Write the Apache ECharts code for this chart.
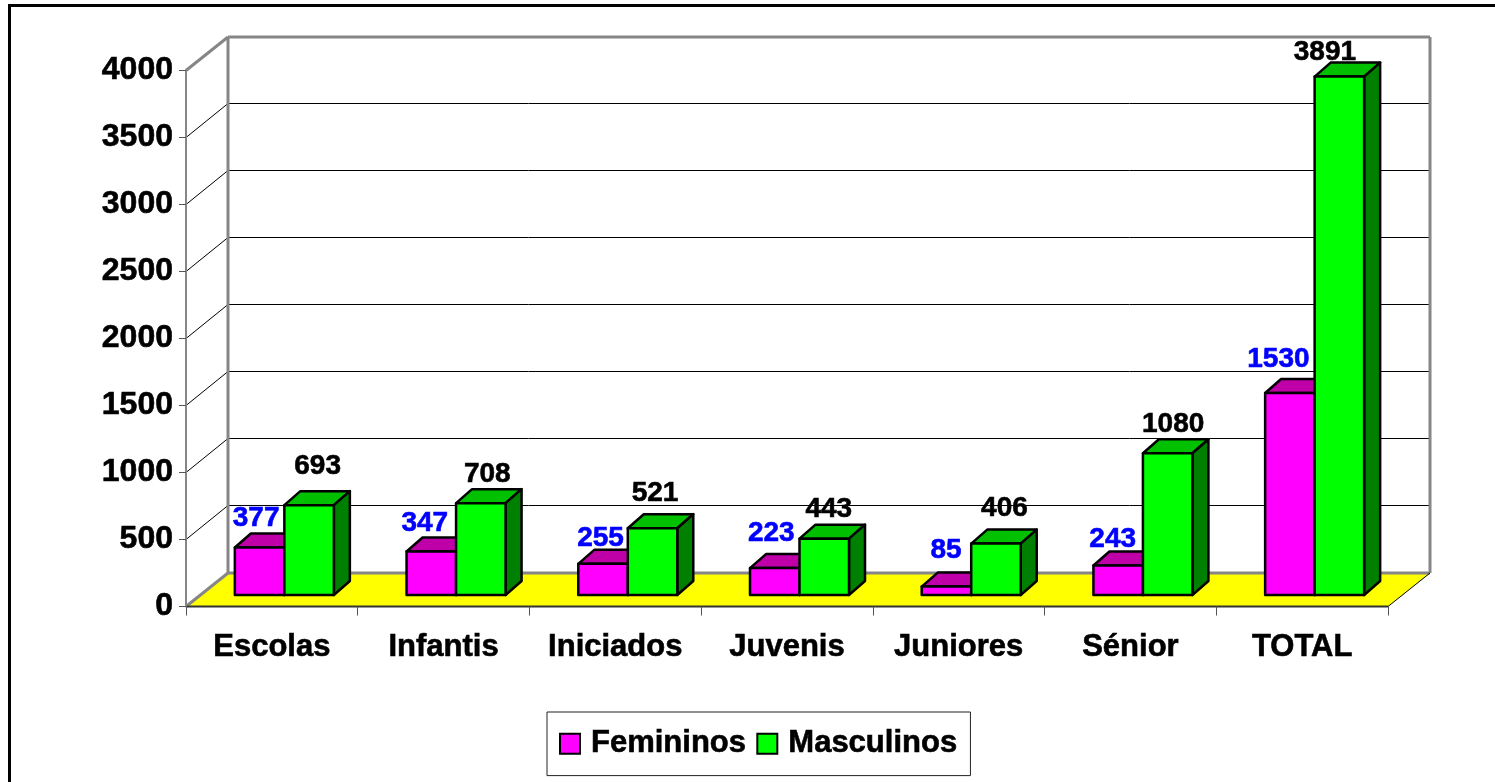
<!DOCTYPE html>
<html>
<head>
<meta charset="utf-8">
<style>html,body{margin:0;padding:0;background:#fff}#c{width:1495px;height:782px}</style>
<script src="https://cdn.jsdelivr.net/npm/echarts@6/dist/echarts.min.js"></script>
</head>
<body>
<div id="c"></div>
<script>
const categories = ['Escolas', 'Infantis', 'Iniciados', 'Juvenis', 'Juniores', 'Sénior', 'TOTAL'];
const femininos = [377, 347, 255, 223, 85, 243, 1530];
const masculinos = [693, 708, 521, 443, 406, 1080, 3891];
const yTicks = [0, 500, 1000, 1500, 2000, 2500, 3000, 3500, 4000];
const femLabelNudge = [[-3.5, 0], [-6.5, 1], [-2.5, 3], [-3.5, -6], [-0.5, -7], [-5.5, 3], [-11.5, -5]];
const masLabelNudge = [[8.5, -10], [6.5, 0], [2.5, -6], [4.5, 0], [8.5, -6], [5.5, 0], [-14.5, 5]];

const FONT = '"Liberation Sans", Arial, sans-serif';
const DEPTH_X = 42, DEPTH_Y = -33.5, GRID_DY = -35;
const BAR_DX = 12.5, BAR_BASE_DY = -11.5, BAR_TOP_DY = -8.5;
const BAR_W = 49.5, FACE_X = 16, FACE_Y = -14;
const GRAY = '#868686';
const HEAVY = { textBorderColor: '#000', textBorderWidth: 0.6 };

function renderFloor(params, api) {
  const c = params.coordSys, x0 = c.x, x1 = c.x + c.width, y0 = c.y + c.height;
  return { type: 'polygon', silent: true,
    shape: { points: [[x0, y0], [x0 + DEPTH_X, y0 + DEPTH_Y], [x1 + DEPTH_X, y0 + DEPTH_Y], [x1, y0]] },
    style: { fill: '#ffff00', stroke: null } };
}
function renderWalls(params, api) {
  const c = params.coordSys, x0 = c.x, x1 = c.x + c.width, y0 = c.y + c.height, yt = c.y;
  const ln = (a, b, d, e, w, col) => ({ type: 'line', silent: true, shape: { x1: a, y1: b, x2: d, y2: e }, style: { stroke: col, lineWidth: w } });
  return { type: 'group', children: [
    ln(x0 + DEPTH_X, yt + DEPTH_Y, x1 + DEPTH_X, yt + DEPTH_Y, 3, GRAY),
    ln(x0 + DEPTH_X, yt + DEPTH_Y, x0 + DEPTH_X, y0 + DEPTH_Y, 3, GRAY),
    ln(x1 + DEPTH_X, yt + DEPTH_Y, x1 + DEPTH_X, y0 + DEPTH_Y, 3, GRAY),
    ln(x0 + DEPTH_X, y0 + DEPTH_Y, x1 + DEPTH_X, y0 + DEPTH_Y, 3, GRAY),
    ln(x0, yt, x0 + DEPTH_X, yt + DEPTH_Y, 3, GRAY),
    ln(x0, y0, x0 + DEPTH_X, y0 + DEPTH_Y, 3, GRAY),
    ln(x1, y0, x1 + DEPTH_X, y0 + DEPTH_Y, 1, '#000'),
    ln(x0, y0, x1, y0, 2, '#333')
  ] };
}
function renderGridLine(params, api) {
  const c = params.coordSys, p = api.coord([0, api.value(1)]);
  const y = p[1], x0 = c.x, x1 = c.x + c.width;
  const yb = Math.round(y + GRID_DY) + 0.5;
  return { type: 'group', children: [
    { type: 'line', silent: true, shape: { x1: x0, y1: y, x2: x0 + DEPTH_X, y2: yb }, style: { stroke: '#000', lineWidth: 1 } },
    { type: 'line', silent: true, shape: { x1: x0 + DEPTH_X, y1: yb, x2: x1 + DEPTH_X, y2: yb }, style: { stroke: '#000', lineWidth: 1 } }
  ] };
}
function barRenderer(side, front, top, dark, textColor, nudges) {
  return function (params, api) {
    const i = api.value(0), v = api.value(1);
    const base = api.coord([i, 0]), tip = api.coord([i, v]);
    const cx = base[0] + BAR_DX + (side < 0 ? -BAR_W / 2 : BAR_W / 2);
    const l = cx - BAR_W / 2, r = cx + BAR_W / 2;
    const b = base[1] + BAR_BASE_DY, t = tip[1] + BAR_TOP_DY;
    const stroke = { stroke: '#000', lineWidth: 2.5, lineJoin: 'round' };
    const n = nudges[params.dataIndex];
    return { type: 'group', children: [
      { type: 'text', silent: true, style: { text: String(v), x: cx + n[0], y: t - 29 + n[1], align: 'center', verticalAlign: 'middle', font: 'bold 28px ' + FONT, fill: textColor, stroke: textColor, lineWidth: 0.6 } },
      { type: 'polygon', silent: true, shape: { points: [[l, t], [l + FACE_X, t + FACE_Y], [r + FACE_X, t + FACE_Y], [r, t]] }, style: Object.assign({ fill: top }, stroke) },
      { type: 'polygon', silent: true, shape: { points: [[r, t], [r + FACE_X, t + FACE_Y], [r + FACE_X, b + FACE_Y], [r, b]] }, style: Object.assign({ fill: dark }, stroke) },
      { type: 'rect', silent: true, shape: { x: l, y: t, width: BAR_W, height: b - t }, style: Object.assign({ fill: front }, stroke) }
    ] };
  };
}
const chart = echarts.init(document.getElementById('c'), null, { renderer: 'canvas' });
chart.setOption({
  animation: false,
  backgroundColor: '#fff',
  textStyle: { fontFamily: FONT },
  grid: { left: 186, top: 70.5, width: 1202, height: 536, containLabel: false },
  xAxis: { type: 'category', data: categories, z: 1,
    axisLine: { show: false },
    axisTick: { show: true, length: 9, alignWithLabel: false, lineStyle: { color: '#555', width: 1 } },
    axisLabel: Object.assign({ color: '#000', fontWeight: 'bold', fontSize: 31, fontFamily: FONT, margin: 25, interval: 0 }, HEAVY) },
  yAxis: { type: 'value', min: 0, max: 4000, interval: 500, z: 1,
    axisLine: { show: true, lineStyle: { color: GRAY, width: 2 } },
    axisTick: { show: true, length: 7, lineStyle: { color: '#555', width: 1 } },
    splitLine: { show: false },
    axisLabel: Object.assign({ color: '#000', fontWeight: 'bold', fontSize: 32, fontFamily: FONT, margin: 13, padding: [3, 0, 0, 0], formatter: v => String(v) }, HEAVY) },
  legend: { left: 547, top: 712, padding: [16, 13, 16, 12],
    itemWidth: 20, itemHeight: 20, itemGap: 10, icon: 'rect',
    selectedMode: false, borderColor: '#222', borderWidth: 1, backgroundColor: '#fff',
    textStyle: Object.assign({ color: '#000', fontWeight: 'bold', fontSize: 31, fontFamily: FONT, padding: [0, 0, 0, 6] }, HEAVY),
    data: ['Femininos', 'Masculinos'] },
  graphic: [{ type: 'rect', silent: true, z: 100, shape: { x: 9.5, y: 5.5, width: 1600, height: 900 }, style: { fill: null, stroke: '#000', lineWidth: 3 } }],
  series: [
    { type: 'custom', name: 'floor', z: 1, clip: false, silent: true, data: [[0, 0]], encode: { x: 0, y: 1 }, renderItem: renderFloor, tooltip: { show: false } },
    { type: 'custom', name: 'grid', z: 1, clip: false, silent: true, data: yTicks.slice(1, -1).map(v => [0, v]), encode: { x: 0, y: 1 }, renderItem: renderGridLine },
    { type: 'custom', name: 'walls', z: 1, clip: false, silent: true, data: [[0, 0]], encode: { x: 0, y: 1 }, renderItem: renderWalls },
    { type: 'custom', name: 'Femininos', z: 3, clip: false, itemStyle: { color: '#ff00ff', borderColor: '#000', borderWidth: 2 },
      data: femininos.map((v, i) => [i, v]), encode: { x: 0, y: 1 },
      renderItem: barRenderer(-1, '#ff00ff', '#bf00a8', '#800080', '#0000ff', femLabelNudge) },
    { type: 'custom', name: 'Masculinos', z: 4, clip: false, itemStyle: { color: '#00ff00', borderColor: '#000', borderWidth: 2 },
      data: masculinos.map((v, i) => [i, v]), encode: { x: 0, y: 1 },
      renderItem: barRenderer(1, '#00ff00', '#00c000', '#008000', '#000', masLabelNudge) }
  ]
});
</script>
</body>
</html>
